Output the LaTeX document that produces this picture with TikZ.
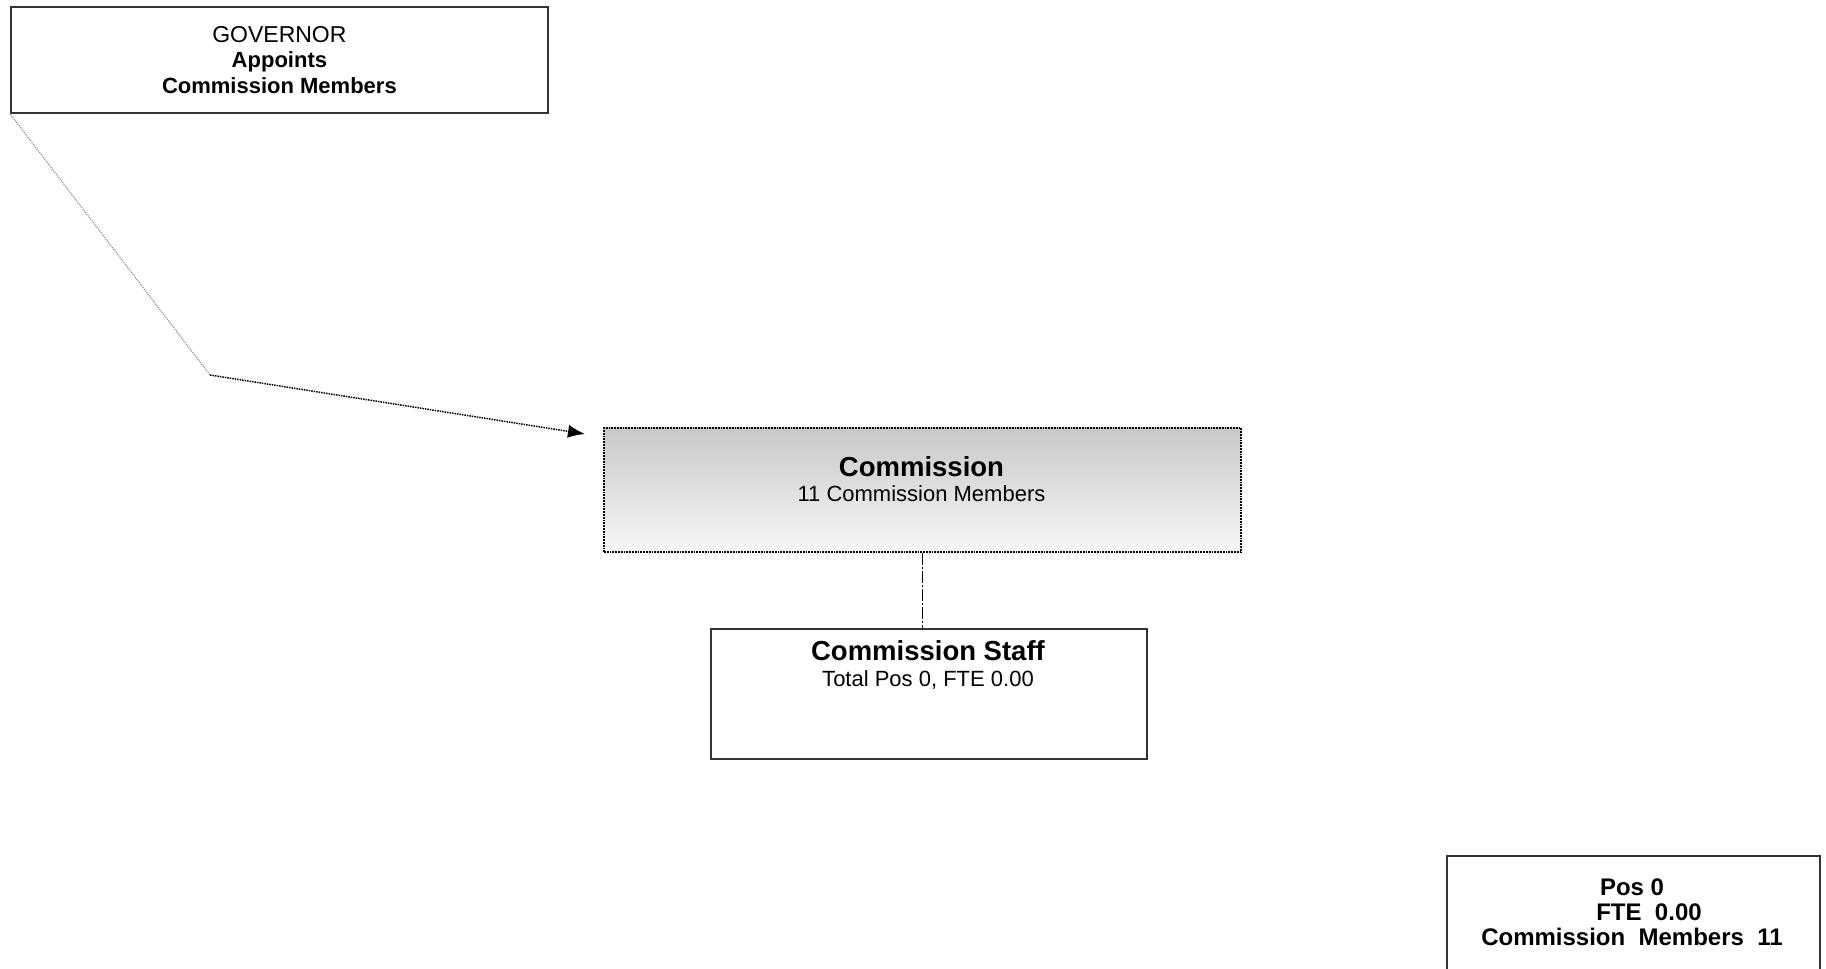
\documentclass[tikz,border=0pt]{standalone}
\usepackage{fontspec}
\setmainfont{Liberation Sans}
\usetikzlibrary{arrows.meta}
\definecolor{gradtop}{RGB}{200,200,200}
\definecolor{gradbot}{RGB}{247,247,247}
\definecolor{linegray}{RGB}{140,140,140}
\begin{document}
\begin{tikzpicture}[x=1pt,y=-1pt,
  box/.style={draw=black!80, line width=1.8pt, fill=white, inner sep=0pt, anchor=north west},
  txt/.style={align=center, inner sep=0pt, font=\fontsize{22}{25.5}\selectfont},
  dotline/.style={densely dotted, line width=1.5pt},
]
\useasboundingbox (0,0) rectangle (1826,969);
% Governor
\node[box, minimum width=537pt, minimum height=106pt] (gov) at (10,6) {};
\node[txt] (govtext) at (gov.center) {\fontsize{23}{25.5}\selectfont GOVERNOR\\ \textbf{Appoints}\\ \textbf{Commission Members}};
% Commission
\node[box, draw=black, densely dotted, line width=1.8pt, minimum width=637pt, minimum height=124pt,
      top color=gradtop, bottom color=gradbot] (comm) at (603,427) {};
\node[txt] (commtext) at (921.5,479) {\fontsize{27.5}{29}\selectfont\textbf{Commission}\\ 11 Commission Members};
% Commission staff
\node[box, minimum width=436pt, minimum height=130pt] (staff) at (710,628) {};
\node[txt] (stafftext) at (928,665) {\fontsize{27.5}{29}\selectfont\textbf{Commission Staff}\\ Total Pos 0, FTE 0.00};
% Legend
\node[box, minimum width=373pt, minimum height=140pt] (legend) at (1446,855) {};
\node[txt, font=\fontsize{24}{25}\selectfont\bfseries] (legtext) at (1632,912) {Pos 0\\ \hspace*{34pt}FTE~~0.00\\ Commission~~Members~~11};
% Connectors
\coordinate (bend) at (210,375);
\coordinate (tip) at (585,434);
\draw[linegray, densely dotted, line width=1.1pt] (gov.south west) -- (bend);
\draw[black, dotline, -{Latex[length=17pt,width=13pt]}] (bend) -- (tip);
\draw[black, line width=1.4pt, dash pattern=on 12pt off 2pt on 2pt off 2pt] (comm.south) -- (comm.south |- staff.north);
\end{tikzpicture}
\end{document}
